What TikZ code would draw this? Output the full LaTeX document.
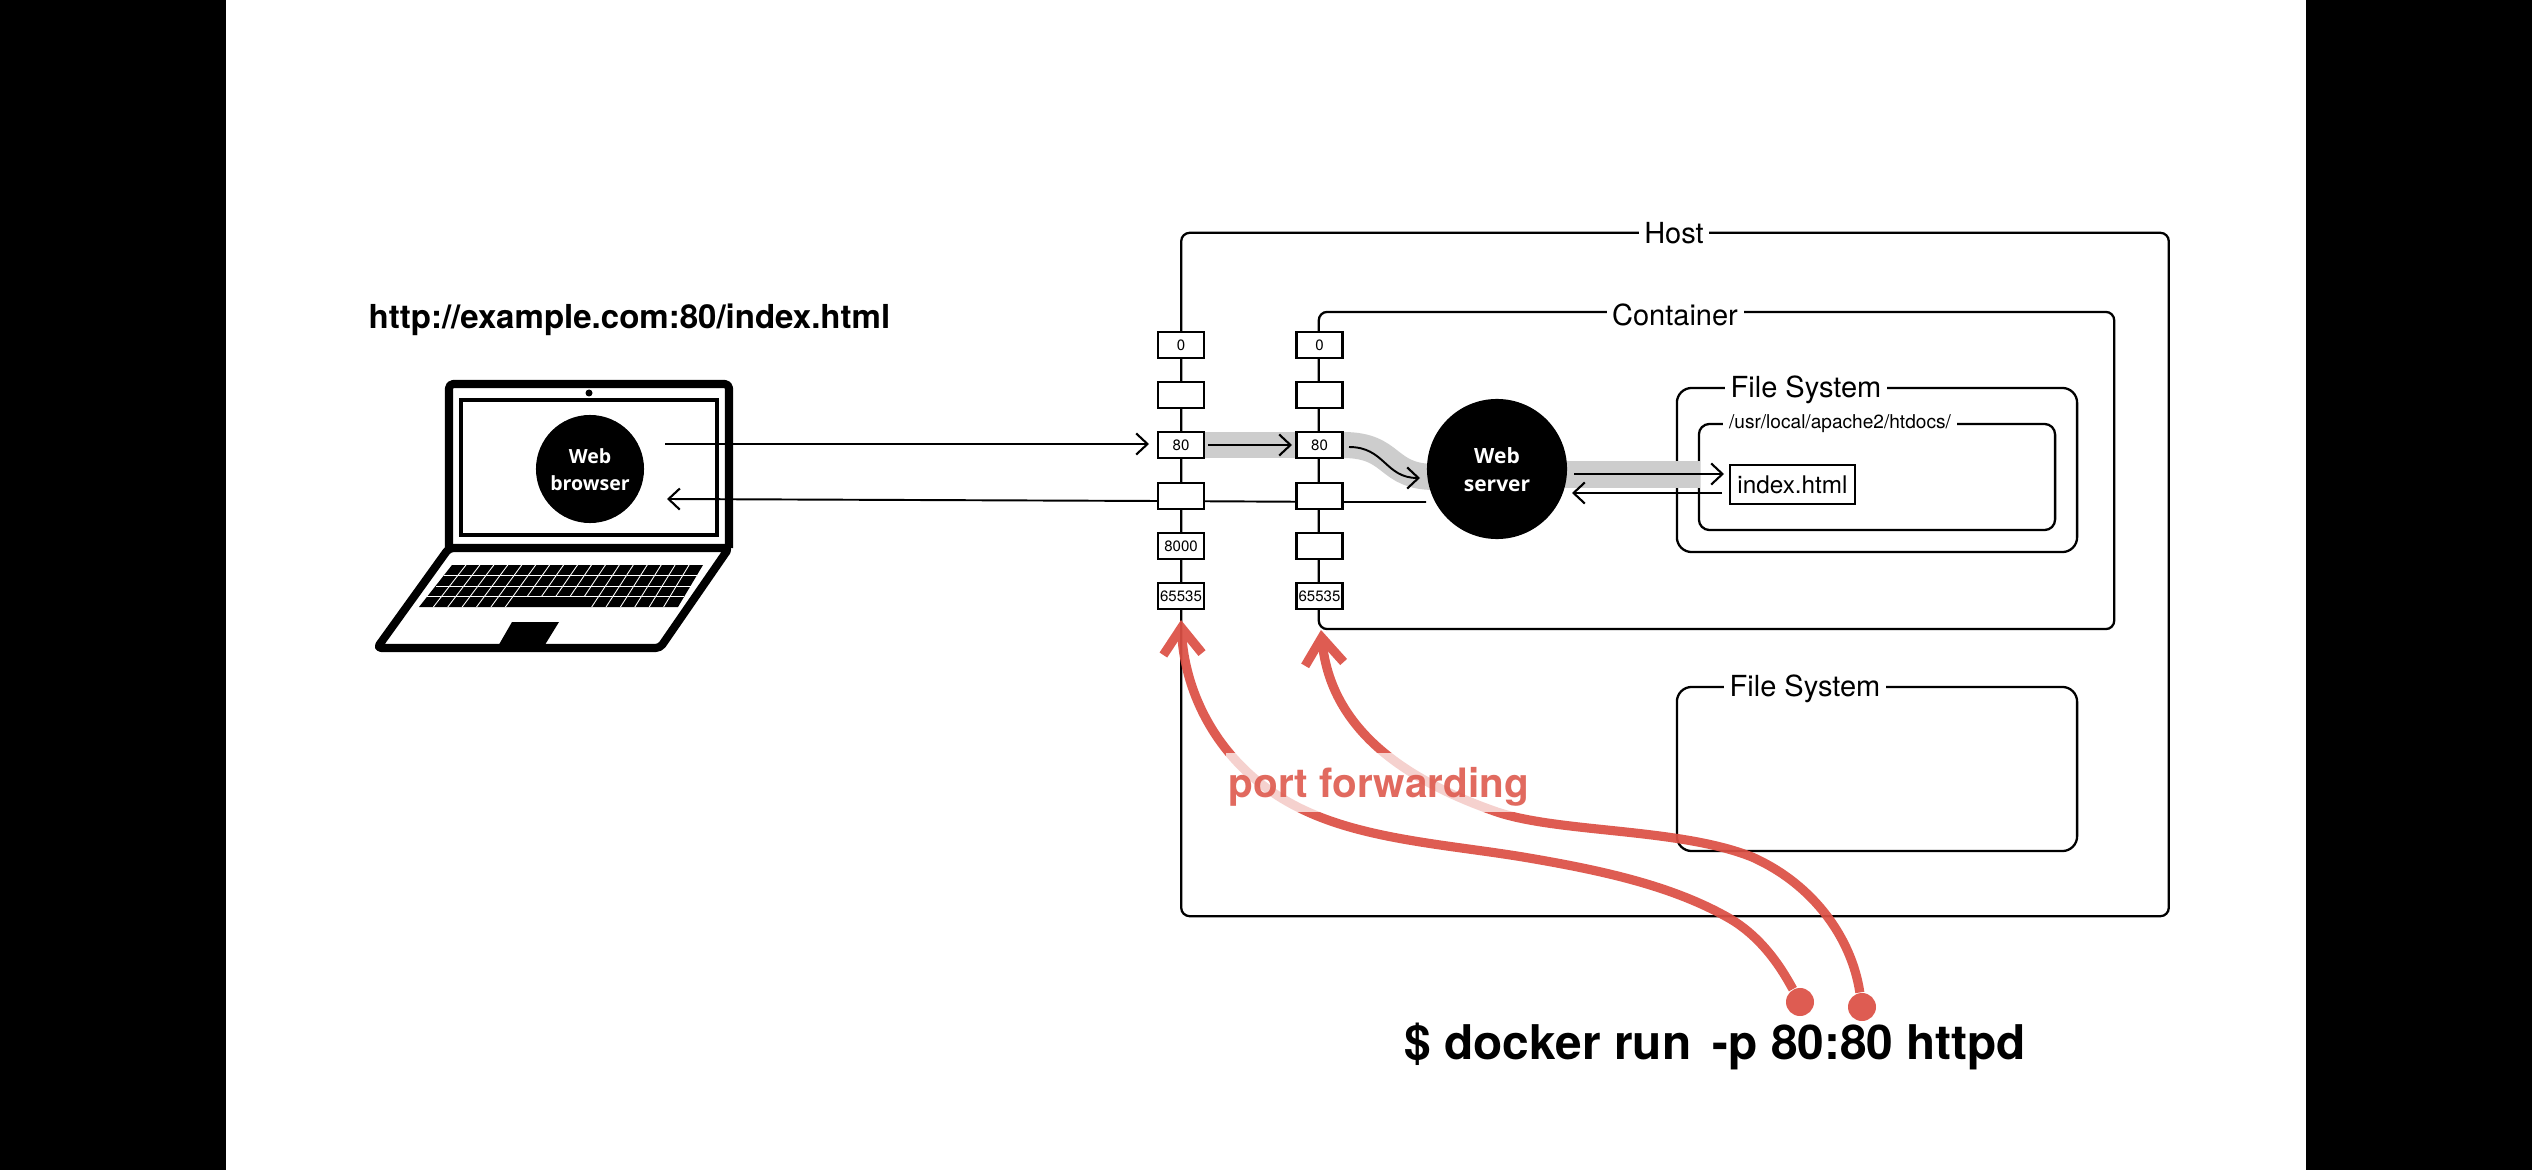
\documentclass[tikz,border=0pt]{standalone}
\usepackage{fontspec}
\setmainfont{TeX Gyre Heros}
\newfontfamily\webfont{Open Sans}
\usetikzlibrary{arrows.meta,calc}
\definecolor{redline}{HTML}{DC5045}
\definecolor{redtext}{HTML}{DE5A4E}
\definecolor{band}{HTML}{CDCDCD}
\tikzset{
  x=0.01cm,y=-0.01cm,
  frameline/.style={draw=black,line width=0.65pt,fill=none,inner sep=0pt,outer sep=0pt},
  framelabel/.style={fill=white,inner ysep=0pt,inner xsep=1.6pt,font=\fontsize{8.25pt}{9pt}\selectfont},
  portbox/.style={draw=black,fill=white,line width=0.65pt,minimum width=0.46cm,minimum height=0.26cm,inner sep=0pt,font=\fontsize{4.27pt}{5pt}\selectfont},
  thinarrow/.style={line width=0.55pt,-{Straight Barb[length=3.2pt,width=6pt,line width=0.6pt]}},
  thinline/.style={line width=0.55pt},
  bandline/.style={band,line width=7.4pt},
  redarrow/.style={redline,line width=2.6pt,-{Straight Barb[length=7.5pt,width=11pt,line width=2.6pt]}},
  reddot/.style={circle,fill=redline,minimum size=0.28cm,inner sep=0pt},
  blackdisc/.style={circle,fill=black,inner sep=0pt,text=white,align=center},
  lap/.style={draw=black,line width=2.3pt,line join=round},
}
\begin{document}
\begin{tikzpicture}
\useasboundingbox (0,0) rectangle (2532,1170);
\fill[white] (0,0) rectangle (2532,1170);
\fill[black] (0,0) rectangle (226,1170);
\fill[black] (2306,0) rectangle (2532,1170);

% laptop
\draw[lap,rounded corners=1.2pt,fill=white] (449,548) -- (449,384) -- (729,384) -- (729,548);
\draw[lap,fill=white,rounded corners=1.2pt] (449,548) -- (729,548) -- (660,648) -- (377,648) -- cycle;
\draw[black,line width=1.1pt] (461,400) rectangle (717,535);
\fill[black] (589,393) circle (3.5);
\fill[black] (452,565) -- (703,565) -- (678,607) -- (419,607) -- cycle;
\foreach \r in {1,2,3}{
  \draw[white,line width=0.25pt] ($(452,565)!\r/4!(419,607)$) -- ($(703,565)!\r/4!(678,607)$);
}
\foreach \i in {1,...,17}{
  \pgfmathsetmacro{\f}{\i/18}
  \coordinate (kt) at ($(452,565)!\f!(703,565)$);
  \coordinate (kb) at ($(419,607)!\f!(678,607)$);
  \ifnum\i>6 \ifnum\i<12
    \draw[white,line width=0.25pt] (kt) -- ($(kt)!0.75!(kb)$);
  \else
    \draw[white,line width=0.25pt] (kt) -- (kb);
  \fi\else
    \draw[white,line width=0.25pt] (kt) -- (kb);
  \fi
}
\fill[black] (512,622) -- (559,622) -- (543,648) -- (497,648) -- cycle;
\node[blackdisc,minimum size=1.08cm] (browser) at (590,469) {};
\node[text=white,font=\webfont\bfseries\fontsize{5.55pt}{7.7pt}\selectfont,align=center,inner sep=0pt] (browserlabel) at (590,470) {Web\\browser};

% title
\node[anchor=base west,inner sep=0pt,font=\bfseries\fontsize{9.39pt}{11pt}\selectfont] (url) at (368,328) {http://example.com:80/index.html};

% frames
\node[frameline,rounded corners=2.4pt,minimum width=9.87cm,minimum height=6.83cm] (host) at (1675,574.5) {};
\node[framelabel] (hostlabel) at (1674,233) {Host};
\node[frameline,rounded corners=2.4pt,minimum width=7.95cm,minimum height=3.17cm] (container) at (1716.5,470.5) {};
\node[framelabel] (containerlabel) at (1675,315) {Container};
\node[frameline,rounded corners=4.2pt,minimum width=4.00cm,minimum height=1.64cm] (fsa) at (1877,470) {};
\node[framelabel] (fsalabel) at (1806,390) {File System};
\node[frameline,rounded corners=3pt,minimum width=3.56cm,minimum height=1.06cm] (docroot) at (1877,477) {};
\node[framelabel,font=\fontsize{5.43pt}{6.5pt}\selectfont] (docrootlabel) at (1840,424) {/usr/local/apache2/htdocs/};
\node[frameline,rounded corners=4.2pt,minimum width=4.00cm,minimum height=1.64cm] (fsb) at (1877,769) {};
\node[framelabel] (fsblabel) at (1805,689) {File System};

% grey bands
\coordinate (bh) at (1204,445);
\coordinate (bc) at (1296,445);
\coordinate (bs) at (1343,445);
\coordinate (be) at (1435,477);
\coordinate (bf) at (1560,474.5);
\coordinate (bi) at (1700,474.5);
\draw[bandline] (bh) -- (bc);
\draw[bandline] (bs) .. controls (1395,445) and (1385,477) .. (be);
\draw[bandline] (bf) -- (bi);

% return line behind ports
\coordinate (rs) at (1426,502);
\coordinate (rb) at (667,499);
\draw[thinline,-{Straight Barb[length=3.2pt,width=6pt,line width=0.6pt]}] (rs) -- (1343,502) -- (1158,501) -- (rb);

% ports
\foreach \c/\x in {a/1181,b/1319.5}{
  \node[portbox] (\c1) at (\x,345) {0};
  \node[portbox] (\c2) at (\x,395) {};
  \node[portbox] (\c3) at (\x,445) {80};
  \node[portbox] (\c4) at (\x,496) {};
  \node[portbox] (\c6) at (\x,596) {65535};
}
\node[portbox] (a5) at (1181,546) {8000};
\node[portbox] (b5) at (1319.5,546) {};

% server
\node[blackdisc,minimum size=1.40cm] (server) at (1497,469) {};
\node[text=white,font=\webfont\bfseries\fontsize{5.97pt}{7.9pt}\selectfont,align=center,inner sep=0pt] (serverlabel) at (1497,470) {Web\\server};

% index.html
\node[draw=black,fill=white,line width=0.6pt,minimum width=1.245cm,minimum height=0.39cm,inner sep=0pt,font=\fontsize{6.91pt}{8pt}\selectfont] (index) at (1792.5,484.5) {index.html};

% arrows
\coordinate (a1s) at (665,444);
\coordinate (a1e) at (1149,444);
\draw[thinarrow] (a1s) -- (a1e);
\coordinate (a2s) at (1208,445);
\coordinate (a2e) at (1292,445);
\draw[thinarrow] (a2s) -- (a2e);
\coordinate (a3s) at (1349,447);
\coordinate (a3e) at (1420,478);
\draw[thinarrow] (a3s) .. controls (1385,447) and (1385,478) .. (a3e);
\coordinate (a4s) at (1574,474);
\coordinate (a4e) at (1724,474);
\draw[thinarrow] (a4s) -- (a4e);
\coordinate (a5s) at (1722,493);
\coordinate (a5e) at (1572,493);
\draw[thinarrow] (a5s) -- (a5e);

% red curves
\begin{scope}[transparency group,opacity=0.93]
\node[reddot] (d1) at (1800,1002) {};
\node[reddot] (d2) at (1862,1007) {};
\coordinate (t1) at (1181,620);
\coordinate (t2) at (1321,630);
\draw[redarrow] (d1) .. controls (1785,975) and (1765,938) .. (1727,917)
  .. controls (1670,885) and (1600,870) .. (1523,857)
  .. controls (1450,845) and (1370,840) .. (1308,812)
  .. controls (1225,775) and (1185,700) .. (t1);
\draw[redarrow] (d2) .. controls (1852,940) and (1815,885) .. (1752,857)
  .. controls (1680,828) and (1560,833) .. (1497,812)
  .. controls (1390,775) and (1330,720) .. (t2);
\end{scope}
\fill[white,opacity=0.72] (1226,753) rectangle (1525,812);
\node[anchor=base west,inner sep=0pt,text=redtext,opacity=0.9,font=\bfseries\fontsize{11.5pt}{14pt}\selectfont] (pf) at (1228,797) {port forwarding};

% command
\node[anchor=base west,inner sep=0pt,font=\bfseries\fontsize{13.6pt}{16pt}\selectfont] (cmd) at (1404,1059) {\$ docker run\hspace{2.3pt} -p 80:80 httpd};
\end{tikzpicture}
\end{document}
